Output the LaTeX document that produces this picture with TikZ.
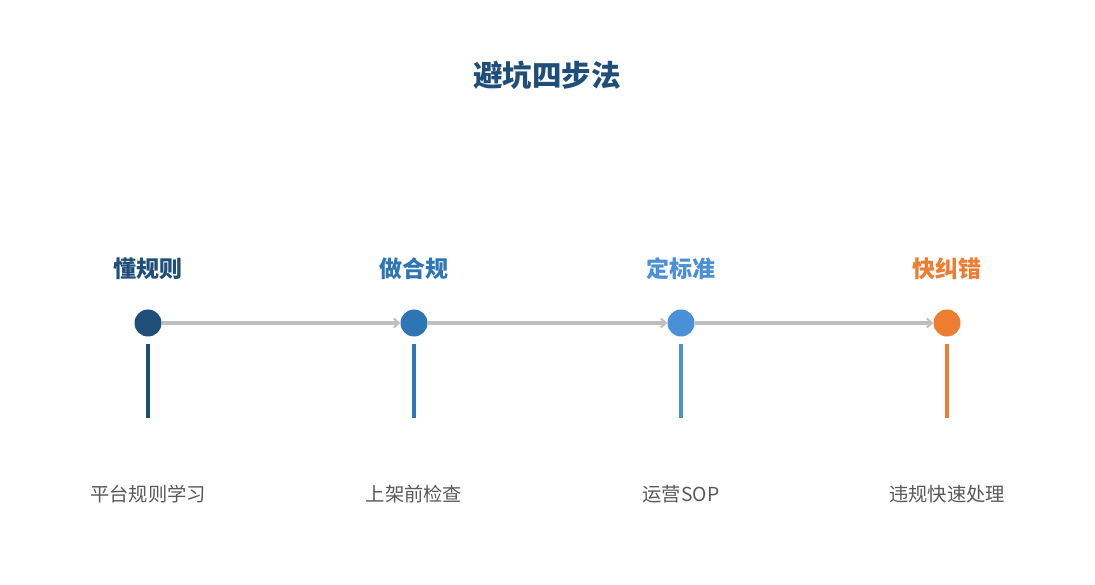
\documentclass[tikz,border=0pt]{standalone}
\usepackage{fontspec}
\setmainfont{Noto Sans CJK SC}
\usetikzlibrary{arrows.meta}
\definecolor{cA}{HTML}{1F4E79}
\definecolor{cB}{HTML}{2E75B6}
\definecolor{cC}{HTML}{4A90D9}
\definecolor{cD}{HTML}{ED7D31}
\definecolor{gline}{HTML}{BFBFBF}
\definecolor{gtext}{HTML}{595959}
\tikzset{
  dot/.style={circle,fill=#1,minimum size=27pt,inner sep=0pt},
  head/.style={text=#1,font=\bfseries\fontsize{23}{26}\selectfont,inner sep=0pt,anchor=center},
  desc/.style={text=gtext,font=\fontsize{19.3}{23}\selectfont,inner sep=0pt,anchor=center},
  flow/.style={draw=gline,line width=3.3pt,-{Straight Barb[length=5pt,width=9pt,line width=2pt]}},
  stem/.style={draw=#1,line width=3.3pt},
}
\begin{document}
\begin{tikzpicture}[x=1pt,y=-1pt]
\useasboundingbox (0,0) rectangle (1095,585);
\node[text=cA,font=\bfseries\fontsize{29.5}{32}\selectfont,inner sep=0pt] (title) at (547,75) {避坑四步法};
\foreach \n/\x/\c/\h/\d in {a/148/cA/懂规则/平台规则学习, b/414/cB/做合规/上架前检查, c/681/cC/定标准/运营SOP, d/947/cD/快纠错/违规快速处理}{
  \node[dot=\c] (\n) at (\x,323) {};
  \node[head=\c] (\n h) at (\x,269) {\h};
  \node[desc] (\n d) at (\x,494) {\d};
  \coordinate (\n s) at (\x,344);
  \coordinate (\n e) at (\x,418);
  \draw[stem=\c] (\n s) -- (\n e);
}
\draw[flow] (a.east) -- (b.west);
\draw[flow] (b.east) -- (c.west);
\draw[flow] (c.east) -- (d.west);
\end{tikzpicture}
\end{document}
